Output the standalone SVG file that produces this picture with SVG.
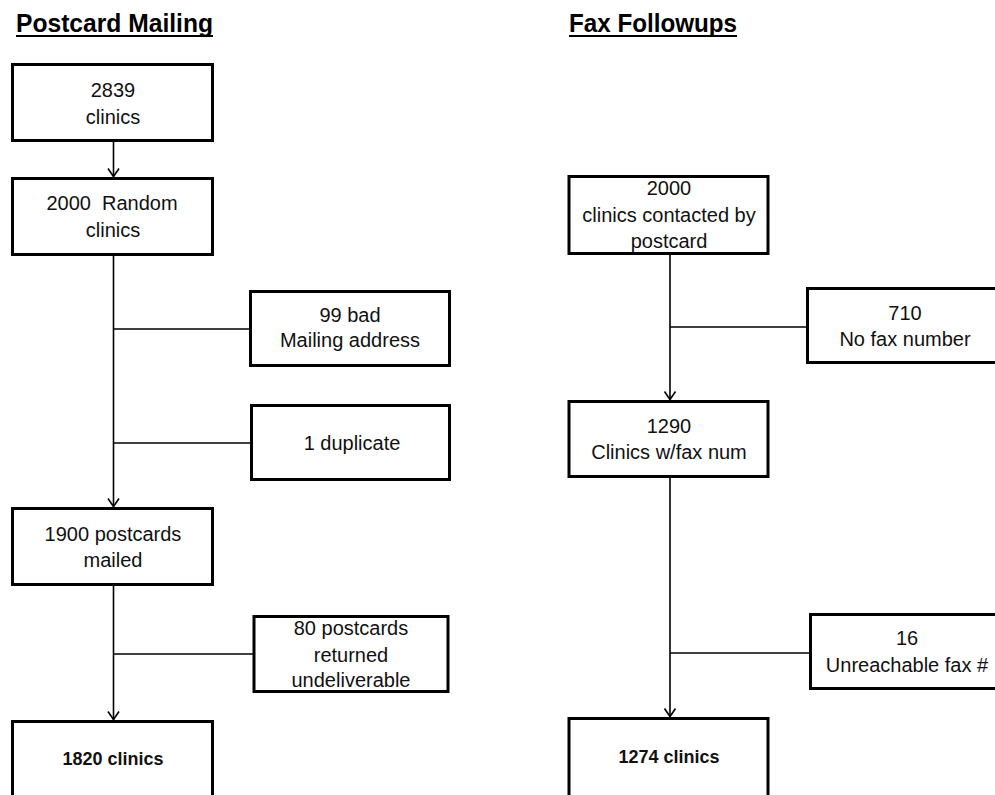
<svg xmlns="http://www.w3.org/2000/svg" width="995" height="795" viewBox="0 0 995 795">
<defs>
<style>
.box{fill:#fff;stroke:#000;stroke-width:3}
.t{font-family:"Liberation Sans",Arial,sans-serif;font-size:20px;fill:#111;text-anchor:middle}
.b{font-family:"Liberation Sans",Arial,sans-serif;font-size:18px;font-weight:bold;fill:#111;text-anchor:middle}
.title{font-family:"Liberation Sans",Arial,sans-serif;font-size:25px;font-weight:bold;fill:#000}
.c{fill:none;stroke:#000;stroke-width:1.6}
</style>
<marker id="arr" viewBox="-10 -7 12 14" refX="0" refY="0" markerWidth="12" markerHeight="14" markerUnits="userSpaceOnUse" orient="auto">
<path d="M-8,-5.5 L0,0 L-8,5.5" fill="none" stroke="#000" stroke-width="1.6"/>
</marker>
</defs>
<rect width="995" height="795" fill="#fff"/>
<g id="titles">
<text class="title" x="16" y="32" textLength="197" lengthAdjust="spacingAndGlyphs">Postcard Mailing</text>
<line x1="16" y1="36" x2="213" y2="36" stroke="#000" stroke-width="2"/>
<text class="title" x="569" y="32" textLength="168" lengthAdjust="spacingAndGlyphs">Fax Followups</text>
<line x1="569" y1="36" x2="737" y2="36" stroke="#000" stroke-width="2"/>
</g>
<g id="connectors">
<line class="c" x1="113.5" y1="142" x2="113.5" y2="176.5" marker-end="url(#arr)"/>
<line class="c" x1="113.5" y1="256" x2="113.5" y2="506.5" marker-end="url(#arr)"/>
<line class="c" x1="113.5" y1="329" x2="250" y2="329"/>
<line class="c" x1="113.5" y1="443" x2="251" y2="443"/>
<line class="c" x1="113.5" y1="586" x2="113.5" y2="719.5" marker-end="url(#arr)"/>
<line class="c" x1="113.5" y1="654" x2="254" y2="654"/>
<line class="c" x1="670" y1="254" x2="670" y2="399.5" marker-end="url(#arr)"/>
<line class="c" x1="670" y1="327" x2="807" y2="327"/>
<line class="c" x1="670" y1="477" x2="670" y2="716.5" marker-end="url(#arr)"/>
<line class="c" x1="670" y1="653" x2="810" y2="653"/>
</g>
<g id="n2839">
<rect class="box" x="12.5" y="64.5" width="200" height="76"/>
<text class="t" x="113" y="97">2839</text>
<text class="t" x="113" y="124">clinics</text>
</g>
<g id="n2000random">
<rect class="box" x="12.5" y="178.5" width="200" height="76"/>
<text class="t" x="112" y="210" xml:space="preserve">2000  Random</text>
<text class="t" x="113" y="237">clinics</text>
</g>
<g id="n99bad">
<rect class="box" x="250.5" y="291.5" width="199" height="74"/>
<text class="t" x="350" y="322">99 bad</text>
<text class="t" x="350" y="347">Mailing address</text>
</g>
<g id="n1dup">
<rect class="box" x="251.5" y="405.5" width="198" height="74"/>
<text class="t" x="352" y="450">1 duplicate</text>
</g>
<g id="n1900">
<rect class="box" x="12.5" y="508.5" width="200" height="76"/>
<text class="t" x="113" y="541">1900 postcards</text>
<text class="t" x="113" y="567">mailed</text>
</g>
<g id="n80">
<rect class="box" x="254" y="616.5" width="194" height="75"/>
<text class="t" x="351" y="635">80 postcards</text>
<text class="t" x="351" y="662">returned</text>
<text class="t" x="351" y="687">undeliverable</text>
</g>
<g id="n1820">
<rect class="box" x="12.5" y="721.5" width="200" height="90"/>
<text class="b" x="113" y="765">1820 clinics</text>
</g>
<g id="n2000contacted">
<rect class="box" x="569" y="176.5" width="199" height="77"/>
<text class="t" x="669" y="195">2000</text>
<text class="t" x="669" y="222">clinics contacted by</text>
<text class="t" x="669" y="248">postcard</text>
</g>
<g id="n710">
<rect class="box" x="807.5" y="288.5" width="200" height="74"/>
<text class="t" x="905" y="320">710</text>
<text class="t" x="905" y="346">No fax number</text>
</g>
<g id="n1290">
<rect class="box" x="569" y="401.5" width="199" height="75"/>
<text class="t" x="669" y="433">1290</text>
<text class="t" x="669" y="459">Clinics w/fax num</text>
</g>
<g id="n16">
<rect class="box" x="810.5" y="614.5" width="200" height="74"/>
<text class="t" x="907" y="645">16</text>
<text class="t" x="907" y="672">Unreachable fax #</text>
</g>
<g id="n1274">
<rect class="box" x="569" y="718.5" width="199" height="90"/>
<text class="b" x="669" y="763">1274 clinics</text>
</g>
</svg>
